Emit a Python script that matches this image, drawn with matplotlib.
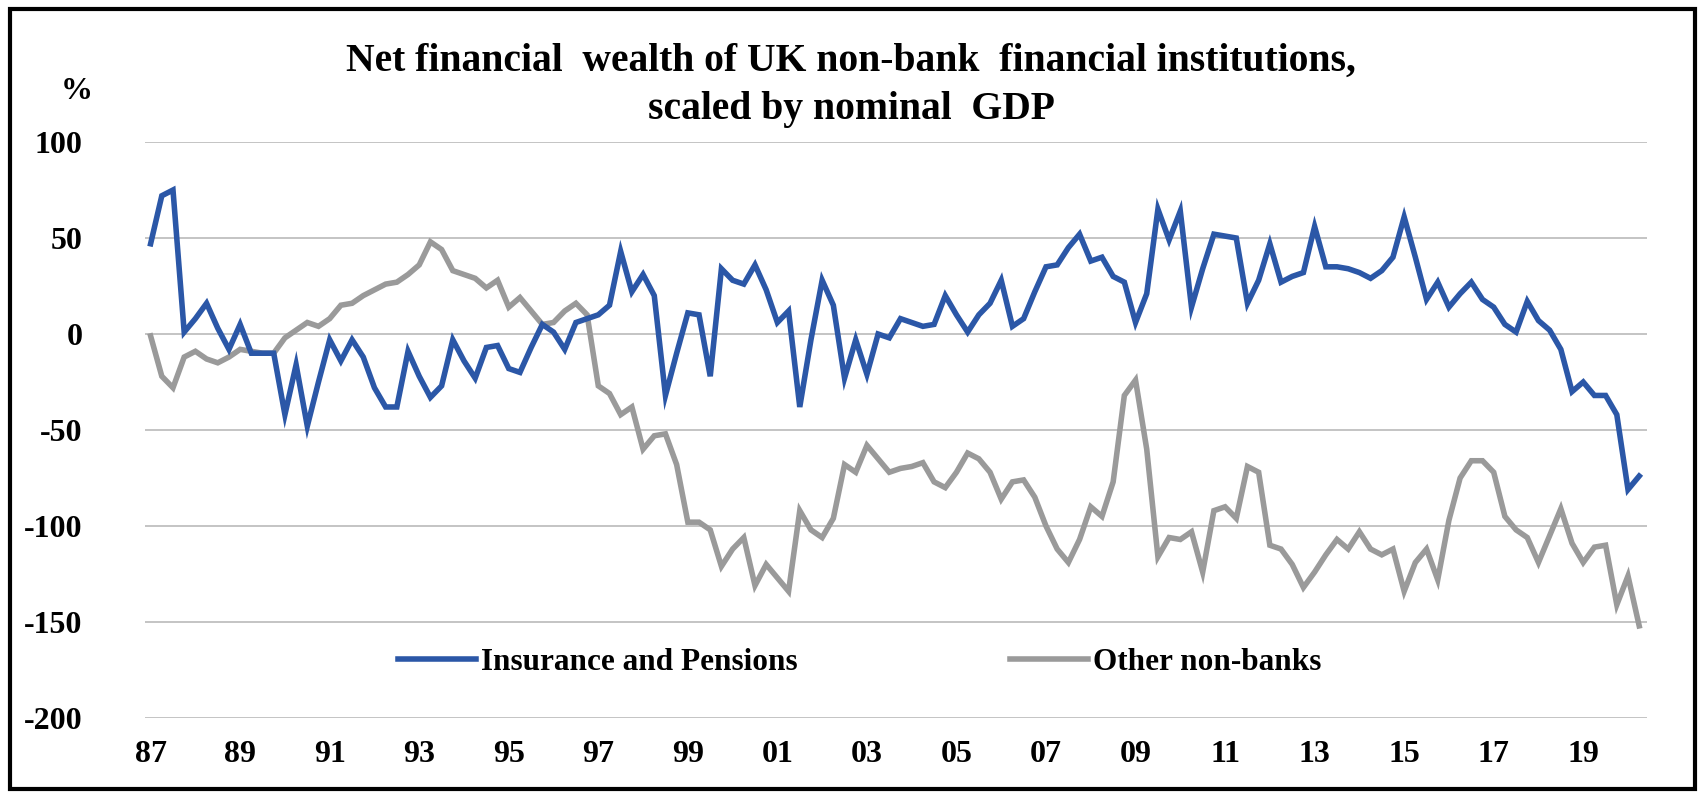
import matplotlib.pyplot as plt
import numpy as np
from matplotlib.patches import Rectangle

# Quarterly series, 1987 Q1 to 2020 Q2, % of nominal GDP
insurance_pensions = [
    47, 72, 75, 1, 8, 16, 3, -8, 5, -10,
    -10, -10, -42, -16, -48, -25, -3, -14, -3, -12,
    -28, -38, -38, -9, -22, -33, -27, -3, -14, -23,
    -7, -6, -18, -20, -7, 5, 1, -8, 6, 8,
    10, 15, 43, 22, 31, 20, -32, -10, 11, 10,
    -22, 34, 28, 26, 36, 23, 6, 12, -38, -3,
    28, 15, -23, -3, -21, 0, -2, 8, 6, 4,
    5, 20, 10, 1, 10, 16, 28, 4, 8, 22,
    35, 36, 45, 52, 38, 40, 30, 27, 6, 21,
    65, 49, 64, 14, 34, 52, 51, 50, 16, 28,
    47, 27, 30, 32, 56, 35, 35, 34, 32, 29,
    33, 40, 61, 40, 18, 27, 14, 21, 27, 18,
    14, 5, 1, 17, 7, 2, -8, -30, -25, -32,
    -32, -42, -81, -74,
]
other_non_banks = [
    -1, -22, -28, -12, -9, -13, -15, -12, -8, -9,
    -10, -10, -2, 2, 6, 4, 8, 15, 16, 20,
    23, 26, 27, 31, 36, 48, 44, 33, 31, 29,
    24, 28, 14, 19, 12, 5, 6, 12, 16, 10,
    -27, -31, -42, -38, -60, -53, -52, -68, -98, -98,
    -102, -121, -112, -106, -131, -120, -127, -134, -92, -102,
    -106, -96, -68, -72, -58, -65, -72, -70, -69, -67,
    -77, -80, -72, -62, -65, -72, -86, -77, -76, -85,
    -100, -112, -119, -107, -90, -95, -77, -32, -24, -60,
    -116, -106, -107, -103, -124, -92, -90, -96, -69, -72,
    -110, -112, -120, -132, -124, -115, -107, -112, -103, -112,
    -115, -112, -134, -119, -112, -128, -97, -75, -66, -66,
    -72, -95, -102, -106, -119, -105, -91, -109, -119, -111,
    -110, -141, -126, -152,
]
year_labels = ["87", "89", "91", "93", "95", "97", "99", "01", "03",
               "05", "07", "09", "11", "13", "15", "17", "19"]
y_ticks = [100, 50, 0, -50, -100, -150, -200]

BLUE = "#2B57A7"
GREY = "#9A9A9A"

plt.rcParams["font.family"] = "Liberation Serif"
plt.rcParams["font.weight"] = "bold"
plt.rcParams["axes.unicode_minus"] = False

fig = plt.figure(figsize=(17.02, 7.92), dpi=100)
ax = fig.add_axes([0.0852, 0.0934, 0.8825, 0.7273])

x = np.arange(len(insurance_pensions))
ax.plot(x, insurance_pensions, color=BLUE, lw=4.0, solid_joinstyle="miter",
        label="Insurance and Pensions", zorder=3)
ax.plot(x, other_non_banks, color=GREY, lw=4.0, solid_joinstyle="miter",
        label="Other non-banks", zorder=2)

ax.set_xlim(-0.5, len(x) - 0.3)
ax.set_ylim(-200, 100)
ax.set_yticks(y_ticks)
ax.set_xticks(np.arange(0, len(x), 8)[:len(year_labels)])
ax.set_xticklabels(year_labels)
ax.grid(axis="y", color="#C4C4C4", lw=1.4)
ax.set_axisbelow(True)
for side in ax.spines.values():
    side.set_visible(False)
ax.tick_params(axis="both", length=0, labelsize=23)
ax.tick_params(axis="y", pad=45)
ax.tick_params(axis="x", pad=16)

fig.text(0.5, 0.922, "Net financial  wealth of UK non-bank  financial institutions,",
         ha="center", va="center", fontsize=28.5, fontweight="bold")
fig.text(0.5, 0.862, "scaled by nominal  GDP",
         ha="center", va="center", fontsize=28.5, fontweight="bold")
fig.text(0.045, 0.884, "%", ha="center", va="center", fontsize=23, fontweight="bold")

ax.legend(loc="center", bbox_to_anchor=(0.505, 0.163), bbox_transform=fig.transFigure,
          ncol=2, frameon=False, fontsize=22.5, handlelength=2.5, handletextpad=0.15,
          columnspacing=6.8)

fig.patches.append(Rectangle((0.006, 0.004), 0.99, 0.985, transform=fig.transFigure,
                             fill=False, edgecolor="black", lw=3))

fig.savefig("out.png", dpi=100, facecolor="white")
